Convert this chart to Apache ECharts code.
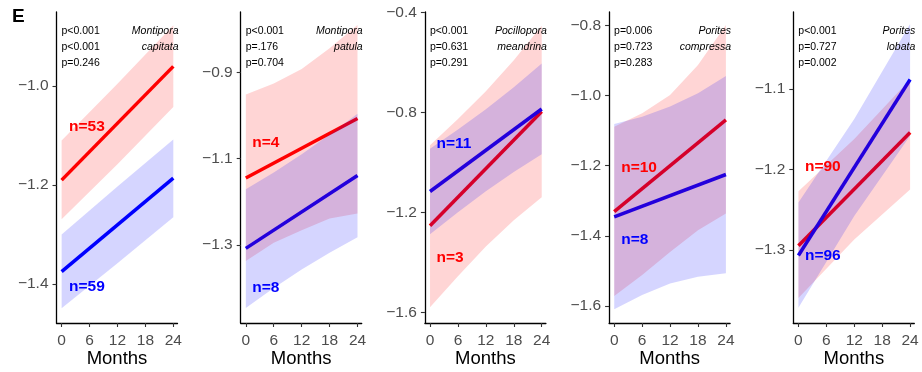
<!DOCTYPE html>
<html>
<head>
<meta charset="utf-8">
<script src="https://cdn.jsdelivr.net/npm/echarts@6/dist/echarts.min.js"></script>
<style>
html,body{margin:0;padding:0;background:#fff;}
#chart{width:922px;height:372px;}
</style>
</head>
<body>
<div id="chart"></div>
<script>
// ---------- data ----------
const speciesGenus = ['Montipora', 'Montipora', 'Pocillopora', 'Porites', 'Porites'];
const speciesEpithet = ['capitata', 'patula', 'meandrina', 'compressa', 'lobata'];
const pValues = [
  ['p<0.001', 'p<0.001', 'p=0.246'],
  ['p<0.001', 'p=.176', 'p=0.704'],
  ['p<0.001', 'p=0.631', 'p=0.291'],
  ['p=0.006', 'p=0.723', 'p=0.283'],
  ['p<0.001', 'p=0.727', 'p=0.002']
];
const redN = ['n=53', 'n=4', 'n=3', 'n=10', 'n=90'];
const blueN = ['n=59', 'n=8', 'n=11', 'n=8', 'n=96'];
const lineMonths = [0, 24];
const redLine = [[-1.190, -0.960], [-1.145, -1.007], [-1.254, -0.797], [-1.331, -1.069], [-1.295, -1.154]];
const blueLine = [[-1.375, -1.186], [-1.308, -1.139], [-1.117, -0.787], [-1.346, -1.225], [-1.307, -1.088]];
const bandMonths = [[0, 12, 24], [0, 6, 12, 18, 24], [0, 6, 12, 18, 24], [0, 6, 12, 18, 24], [0, 12, 24]];
const redUpper = [[-1.110, -0.995, -0.877], [-0.951, -0.926, -0.892, -0.844, -0.790], [-0.932, -0.827, -0.716, -0.592, -0.454], [-1.089, -1.050, -0.998, -0.912, -0.798], [-1.227, -1.162, -1.088]];
const redLower = [[-1.269, -1.158, -1.042], [-1.337, -1.295, -1.266, -1.239, -1.227], [-1.580, -1.456, -1.337, -1.232, -1.140], [-1.572, -1.512, -1.446, -1.384, -1.336], [-1.360, -1.287, -1.225]];
const blueUpper = [[-1.300, -1.203, -1.108], [-1.171, -1.132, -1.090, -1.044, -0.996], [-0.946, -0.869, -0.788, -0.700, -0.605], [-1.081, -1.060, -1.031, -0.993, -0.944], [-1.241, -1.137, -1.019]];
const blueLower = [[-1.449, -1.358, -1.265], [-1.446, -1.400, -1.357, -1.318, -1.282], [-1.288, -1.200, -1.116, -1.039, -0.968], [-1.610, -1.569, -1.536, -1.517, -1.507], [-1.372, -1.258, -1.158]];
const yMin = [-1.479, -1.481, -1.643, -1.649, -1.391];
const yMax = [-0.850, -0.760, -0.399, -0.761, -1.004];
const yTicks = [
  [-1.4, -1.2, -1.0],
  [-1.3, -1.1, -0.9],
  [-1.6, -1.2, -0.8, -0.4],
  [-1.6, -1.4, -1.2, -1.0, -0.8],
  [-1.3, -1.2, -1.1]
];
const xTicks = [0, 6, 12, 18, 24];
const xName = 'Months';
const panelLetter = 'E';
// annotation anchors in data units (month, value)
const redLabelAt = [[1.6, -1.083], [1.4, -1.064], [1.4, -1.380], [1.5, -1.207], [1.4, -1.196]];
const blueLabelAt = [[1.6, -1.406], [1.4, -1.399], [1.4, -0.924], [1.5, -1.412], [1.4, -1.307]];

// ---------- layout / style ----------
const FONT = '"Liberation Sans", Arial, Helvetica, sans-serif';
const RED = '#FF0000', BLUE = '#0000FF';
const gridLeft = [56.5, 240.7, 424.9, 609.1, 793.3];
const gridW = 121, gridTop = 12, gridH = 311;

const chart = echarts.init(document.getElementById('chart'), null, {renderer: 'canvas'});

const grids = [], xAxes = [], yAxes = [], series = [], graphics = [];

function fmtY(v) {
  return Number(v).toFixed(1).replace('-', '\u2212');
}

function bandSeries(i, xs, lo, hi, color) {
  return {
    type: 'custom',
    xAxisIndex: i, yAxisIndex: i,
    z: 3,
    silent: true,
    data: xs.map((x, k) => [x, lo[k], hi[k]]),
    renderItem: function (params, api) {
      if (params.dataIndex !== 0) return null;
      const pts = [];
      for (let k = 0; k < xs.length; k++) pts.push(api.coord([xs[k], hi[k]]));
      for (let k = xs.length - 1; k >= 0; k--) pts.push(api.coord([xs[k], lo[k]]));
      return {type: 'polygon', shape: {points: pts}, style: {fill: color}};
    }
  };
}

for (let i = 0; i < 5; i++) {
  grids.push({left: gridLeft[i], top: gridTop, width: gridW, height: gridH, containLabel: false, outerBoundsMode: 'none'});
  xAxes.push({
    type: 'value', gridIndex: i, min: -1.1, max: 24.9,
    name: xName, nameLocation: 'middle', nameGap: 26, nameMoveOverlap: false,
    nameTextStyle: {fontFamily: FONT, fontSize: 18.5, color: '#000'},
    axisLine: {show: true, onZero: false, lineStyle: {color: '#000', width: 1.3}},
    axisTick: {show: true, length: 4, customValues: xTicks, lineStyle: {color: '#333', width: 1.1}},
    axisLabel: {show: true, customValues: xTicks, margin: 9.5, fontFamily: FONT, fontSize: 15.5, color: '#4D4D4D'},
    splitLine: {show: false}
  });
  yAxes.push({
    type: 'value', gridIndex: i, min: yMin[i], max: yMax[i],
    axisLine: {show: true, onZero: false, lineStyle: {color: '#000', width: 1.3}},
    axisTick: {show: true, length: 4, customValues: yTicks[i], lineStyle: {color: '#333', width: 1.1}},
    axisLabel: {show: true, customValues: yTicks[i], margin: 8, fontFamily: FONT, fontSize: 15.5, color: '#4D4D4D', formatter: fmtY},
    splitLine: {show: false}
  });

  // lines (drawn beneath ribbons)
  series.push({
    type: 'line', xAxisIndex: i, yAxisIndex: i, z: 2, silent: true,
    symbol: 'none', lineStyle: {color: RED, width: 3.5},
    data: lineMonths.map((m, k) => [m, redLine[i][k]])
  });
  series.push({
    type: 'line', xAxisIndex: i, yAxisIndex: i, z: 2, silent: true,
    symbol: 'none', lineStyle: {color: BLUE, width: 3.5},
    data: lineMonths.map((m, k) => [m, blueLine[i][k]])
  });
  // ribbons
  series.push(bandSeries(i, bandMonths[i], redLower[i], redUpper[i], 'rgba(255,0,0,0.165)'));
  series.push(bandSeries(i, bandMonths[i], blueLower[i], blueUpper[i], 'rgba(0,0,255,0.165)'));
  // n labels
  series.push({
    type: 'scatter', xAxisIndex: i, yAxisIndex: i, z: 5, silent: true,
    symbolSize: 0, itemStyle: {color: 'rgba(0,0,0,0)'},
    data: [
      {value: redLabelAt[i], label: {formatter: redN[i], color: RED}},
      {value: blueLabelAt[i], label: {formatter: blueN[i], color: BLUE}}
    ],
    label: {show: true, position: 'right', distance: 0, fontFamily: FONT, fontSize: 15.5, fontWeight: 'bold', opacity: 1}
  });

  // p-values and species names
  const gl = gridLeft[i];
  const rowY = [31, 47, 63];
  pValues[i].forEach((t, r) => {
    graphics.push({
      type: 'text', z: 10, silent: true,
      style: {text: t, x: gl + 5, y: rowY[r], fill: '#000', font: '10.5px ' + FONT, textAlign: 'left', textVerticalAlign: 'middle'}
    });
  });
  [speciesGenus[i], speciesEpithet[i]].forEach((t, r) => {
    graphics.push({
      type: 'text', z: 10, silent: true,
      style: {text: t, x: gl + gridW + 1, y: rowY[r], fill: '#000', font: 'italic 10.5px ' + FONT, textAlign: 'right', textVerticalAlign: 'middle'}
    });
  });
}

graphics.push({
  type: 'text', z: 10, silent: true,
  style: {text: panelLetter, x: 12, y: 17, fill: '#000', font: 'bold 19px ' + FONT, textAlign: 'left', textVerticalAlign: 'middle'}
});

chart.setOption({
  animation: false,
  backgroundColor: '#fff',
  grid: grids,
  xAxis: xAxes,
  yAxis: yAxes,
  series: series,
  graphic: graphics
});
</script>
</body>
</html>
